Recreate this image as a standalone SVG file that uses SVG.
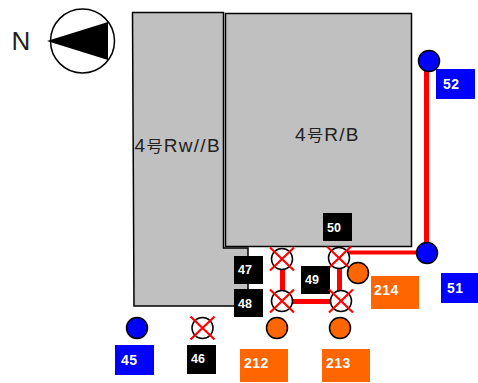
<svg xmlns="http://www.w3.org/2000/svg" width="478" height="383" viewBox="0 0 478 383">
<style>
text{font-family:"Liberation Sans",Arial,sans-serif}
.b{fill:#c0c0c0;stroke:#000;stroke-width:1.500}
.bt{font-size:19px;fill:#222;letter-spacing:1.300px}
.k{font-family:"Noto Sans CJK JP",sans-serif;font-size:16px}
.l{font-size:14px;font-weight:bold;fill:#fff;letter-spacing:.5px}
.s{font-size:12.500px;font-weight:bold;fill:#fff}
.w{stroke:#f00;stroke-width:5;fill:none}
.c{stroke:#000;stroke-width:1.500}
.x{stroke:#f00;stroke-width:2.200}
</style>
<defs>
<g id="xm"><circle r="10.500" fill="#fff" stroke="#000" stroke-width="1.500"/><path class="x" d="M-12-11.500 12 11.500M-12 11.500 12-11.500"/></g>
</defs>
<g id="compass">
<circle cx="82.500" cy="41" r="32" fill="#fff" stroke="#000" stroke-width="1.500"/>
<path d="M47 41 108 22 108 60Z" fill="#000"/>
<text x="21" y="50" font-size="26" fill="#222" text-anchor="middle">N</text>
</g>
<g id="bldg-rw"><path class="b" d="M132.500 12.500H223.500V248H248V306H134Z"/><text class="bt" x="134.500" y="152">4<tspan class="k">号</tspan>Rw//B</text></g>
<g id="bldg-rb"><rect class="b" x="225.500" y="13.500" width="186" height="233"/><text class="bt" x="295" y="140.500">4<tspan class="k">号</tspan>R/B</text></g>
<g id="connectors">
<path class="w" d="M282.500 258V301.500H339.500M339.500 258V301.500M426.500 61V252"/>
<path class="w" d="M339 252.500H428" style="stroke-width:4"/>
</g>
<g id="n45"><circle class="c" cx="137" cy="328" r="10.500" fill="#00f"/><rect x="115" y="345" width="39" height="30" fill="#00f"/><text class="l" x="121" y="365">45</text></g>
<g id="n46"><use href="#xm" x="202.500" y="328"/><rect x="187" y="345" width="29" height="29" fill="#000"/><text class="s" x="191" y="363">46</text></g>
<g id="n47"><use href="#xm" x="282" y="259"/><rect x="234" y="256" width="29" height="28" fill="#000"/><text class="s" x="238" y="274">47</text></g>
<g id="n48"><use href="#xm" x="282" y="301"/><rect x="234" y="289" width="29" height="28" fill="#000"/><text class="s" x="238" y="308">48</text></g>
<g id="n49"><use href="#xm" x="339" y="258"/><rect x="301" y="266" width="29" height="28" fill="#000"/><text class="s" x="305" y="284">49</text></g>
<g id="n50"><use href="#xm" x="341" y="301"/><rect x="323" y="213" width="29" height="28" fill="#000"/><text class="s" x="327" y="232">50</text></g>
<g id="n51"><circle class="c" cx="427" cy="253" r="10.500" fill="#00f"/><rect x="441" y="273" width="37" height="30" fill="#00f"/><text class="l" x="447" y="293">51</text></g>
<g id="n52"><circle class="c" cx="429" cy="61" r="10.500" fill="#00f"/><rect x="436" y="69" width="39" height="30" fill="#00f"/><text class="l" x="443" y="89">52</text></g>
<g id="n212"><circle class="c" cx="277" cy="328" r="10.500" fill="#f60"/><rect x="240" y="349" width="48" height="33" fill="#f60"/><text class="l" x="244" y="368">212</text></g>
<g id="n213"><circle class="c" cx="340" cy="328" r="10.500" fill="#f60"/><rect x="322" y="349" width="48" height="33" fill="#f60"/><text class="l" x="326" y="368">213</text></g>
<g id="n214"><circle class="c" cx="358" cy="273" r="10.500" fill="#f60"/><rect x="371" y="276" width="48" height="33" fill="#f60"/><text class="l" x="374" y="295">214</text></g>
</svg>
